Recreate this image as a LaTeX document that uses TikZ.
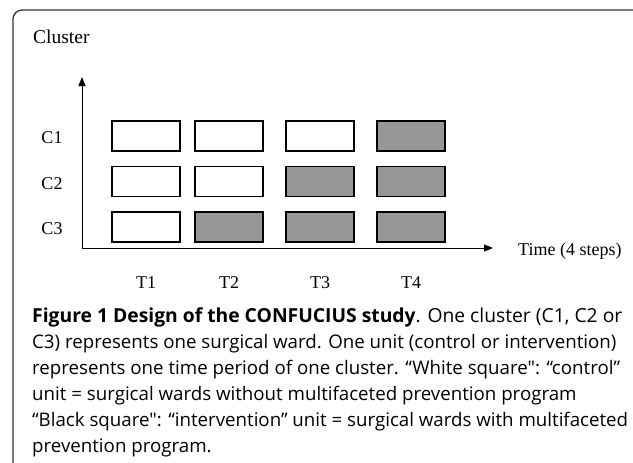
\documentclass[tikz,border=0pt]{standalone}
\usepackage{fontspec}
\setmainfont{Liberation Serif}
\newfontfamily\capfont{Open Sans}
\usetikzlibrary{arrows.meta}
\definecolor{boxgray}{RGB}{150,150,150}
\definecolor{framegray}{RGB}{50,50,50}
\tikzset{
  lbl/.style={font=\fontsize{18}{20}\selectfont, inner sep=0pt},
  unit/.style={draw=black, line width=1.1pt, minimum width=68pt, minimum height=30pt, inner sep=0pt},
  ctrl/.style={unit, fill=white},
  intv/.style={unit, fill=boxgray},
  axis/.style={line width=1pt, -{Triangle[length=9pt,width=7pt]}},
  capline/.style={font=\capfont\fontsize{18.7}{26}\selectfont, inner sep=0pt, anchor=base west}
}
\begin{document}
\begin{tikzpicture}[x=1pt,y=-1pt]
\useasboundingbox (0,0) rectangle (633,463);
\begin{scope}
\clip (0,0) rectangle (633,463);
\draw[framegray, line width=1.3pt, rounded corners=9pt] (13,10) rectangle (660,490);
\end{scope}
% titles
\node[lbl, font=\fontsize{19.5}{22}\selectfont, anchor=west] (cluster) at (33,37) {Cluster};
\node[lbl, anchor=west] (time) at (518,251) {Time (4 steps)};
% axes
\coordinate (origin) at (82,248);
\coordinate (ytip) at (82,77);
\coordinate (xtip) at (493,248);
\draw[axis] (origin) -- (ytip);
\draw[axis] (origin) -- (xtip);
% row labels
\node[lbl] (c1) at (52,138) {C1};
\node[lbl] (c2) at (52,183.5) {C2};
\node[lbl] (c3) at (52,229) {C3};
% column labels
\node[lbl] (t1) at (146,283) {T1};
\node[lbl] (t2) at (229,283) {T2};
\node[lbl] (t3) at (320,283) {T3};
\node[lbl] (t4) at (411,283) {T4};
% units
\node[ctrl] (u11) at (146,136) {};
\node[ctrl] (u12) at (229,136) {};
\node[ctrl] (u13) at (320,136) {};
\node[intv] (u14) at (411,136) {};
\node[ctrl] (u21) at (146,181.5) {};
\node[ctrl] (u22) at (229,181.5) {};
\node[intv] (u23) at (320,181.5) {};
\node[intv] (u24) at (411,181.5) {};
\node[ctrl] (u31) at (146,227) {};
\node[intv] (u32) at (229,227) {};
\node[intv] (u33) at (320,227) {};
\node[intv] (u34) at (411,227) {};
% caption
\node[capline, font=\capfont\fontsize{19.3}{26}\selectfont] (cap1) at (32,322) {\textbf{Figure 1 Design of the CONFUCIUS study}. One cluster (C1, C2 or};
\node[capline] (cap2) at (32,348) {C3) represents one surgical ward. One unit (control or intervention)};
\node[capline] (cap3) at (32,374) {represents one time period of one cluster. “White square": “control”};
\node[capline] (cap4) at (32,400) {unit = surgical wards without multifaceted prevention program};
\node[capline] (cap5) at (32,426) {“Black square": “intervention” unit = surgical wards with multifaceted};
\node[capline] (cap6) at (32,452) {prevention program.};
\end{tikzpicture}
\end{document}
